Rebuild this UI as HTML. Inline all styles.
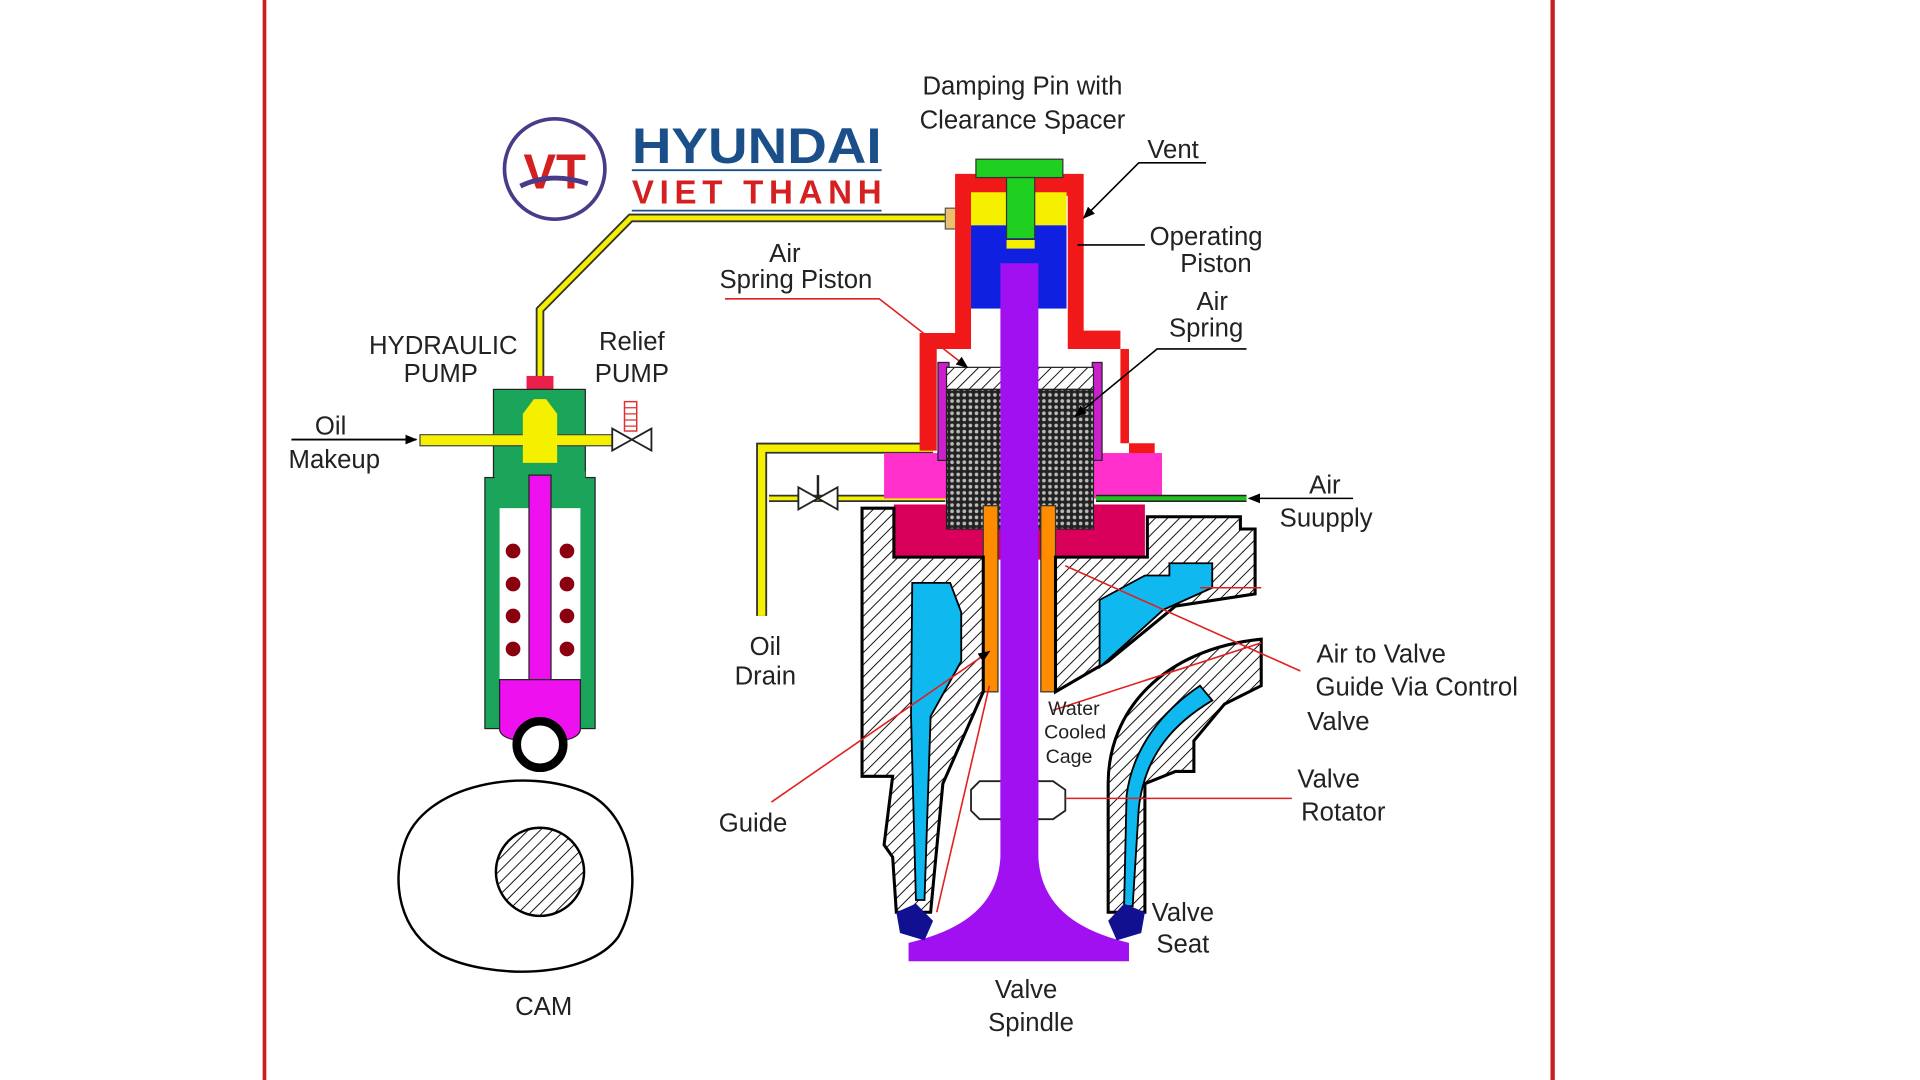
<!DOCTYPE html>
<html><head><meta charset="utf-8"><style>
html,body{margin:0;padding:0;background:#fff;width:1920px;height:1080px;overflow:hidden}
svg{display:block}
text{font-family:"Liberation Sans",sans-serif;fill:#222}
</style></head><body>
<svg width="1920" height="1080" viewBox="0 0 1568 882" xmlns="http://www.w3.org/2000/svg">
<defs>
<pattern id="h" width="7" height="7" patternUnits="userSpaceOnUse" patternTransform="rotate(45)">
<rect width="7" height="7" fill="#fff"/><line x1="0" y1="0" x2="0" y2="7" stroke="#111" stroke-width="1.6"/></pattern>
<pattern id="c" width="5" height="5" patternUnits="userSpaceOnUse">
<rect width="5" height="5" fill="#222"/><circle cx="2.5" cy="2.5" r="1.5" fill="#bbb"/></pattern>
<marker id="a" markerWidth="10" markerHeight="8" refX="9" refY="4" orient="auto" markerUnits="userSpaceOnUse"><path d="M0,0 L10,4 L0,8z" fill="#000"/></marker>
</defs>
<rect width="1568" height="882" fill="#fff"/>
<line x1="216" y1="0" x2="216" y2="882" stroke="#c81e1e" stroke-width="3"/>
<line x1="1268" y1="0" x2="1268" y2="882" stroke="#c81e1e" stroke-width="3.5"/>

<!-- logo -->
<circle cx="453" cy="138" r="41" fill="#fff" stroke="#4a3a8a" stroke-width="3"/>
<text x="453" y="154" text-anchor="middle" font-size="40" font-weight="bold" style="fill:#d42020">VT</text>
<path d="M425 152 Q450 140 480 150" stroke="#4a3a8a" stroke-width="4" fill="none"/>
<text x="516" y="133" font-size="41" font-weight="bold" style="fill:#1a4f8a" textLength="204" lengthAdjust="spacingAndGlyphs">HYUNDAI</text>
<line x1="516" y1="139" x2="720" y2="139" stroke="#1a4f8a" stroke-width="1.5"/>
<text x="516" y="166" font-size="27" font-weight="bold" style="fill:#d42020" textLength="204" lengthAdjust="spacing">VIET THANH</text>
<line x1="516" y1="172" x2="720" y2="172" stroke="#1a4f8a" stroke-width="1.5"/>

<!-- oil pipe to top -->
<path d="M441 312 L441 253 L515 178 L795 178" stroke="#333" stroke-width="7" fill="none"/>
<path d="M441 312 L441 253 L515 178 L795 178" stroke="#f5f000" stroke-width="4" fill="none"/>
<rect x="772" y="170" width="10" height="17" fill="#e8c070" stroke="#555" stroke-width="1"/>

<!-- pump -->
<rect x="430" y="307" width="22" height="12" fill="#e8204a"/>
<rect x="403" y="318" width="75" height="80" fill="#1aa55a" stroke="#222" stroke-width="1"/>
<rect x="396" y="390" width="90" height="205" fill="#1aa55a" stroke="#222" stroke-width="1"/>
<rect x="404" y="385" width="74" height="12" fill="#1aa55a"/>
<path d="M343 355 H500 V364 H343z" fill="#f5f000" stroke="#444" stroke-width="1"/>
<path d="M427 338 L436 326 L446 326 L455 338 V378 H427z" fill="#f5f000"/>
<rect x="408" y="415" width="66" height="145" fill="#fff"/>
<rect x="432" y="388" width="18" height="175" fill="#ee10ee" stroke="#222" stroke-width="1"/>
<path d="M408 555 H474 V595 Q474 606 441 606 Q408 606 408 595z" fill="#ee10ee" stroke="#222" stroke-width="1"/>
<circle cx="441" cy="608" r="19" fill="#fff" stroke="#000" stroke-width="7"/>
<g fill="#8a0010">
<circle cx="419" cy="450" r="6"/><circle cx="463" cy="450" r="6"/>
<circle cx="419" cy="477" r="6"/><circle cx="463" cy="477" r="6"/>
<circle cx="419" cy="503" r="6"/><circle cx="463" cy="503" r="6"/>
<circle cx="419" cy="530" r="6"/><circle cx="463" cy="530" r="6"/></g>
<line x1="238" y1="359" x2="340" y2="359" stroke="#000" stroke-width="1.5" marker-end="url(#a)"/>
<path d="M500 350 L532 368 L532 350 L500 368z" fill="#fff" stroke="#222" stroke-width="1.5"/>
<rect x="510" y="328" width="10" height="24" fill="#fff" stroke="#e03030" stroke-width="1.2"/>
<path d="M510 333 H520 M510 338 H520 M510 343 H520 M510 348 H520" stroke="#e03030"/>

<!-- cam -->
<path d="M330 690 C345 640 430 625 480 648 C520 668 525 730 505 765 C480 800 400 800 360 780 C325 760 320 720 330 690z" fill="#fff" stroke="#000" stroke-width="2"/>
<circle cx="441" cy="712" r="36" fill="url(#h)" stroke="#000" stroke-width="2"/>

<!-- oil drain pipes -->
<path d="M622 503 V366 H762" stroke="#333" stroke-width="9" fill="none"/>
<path d="M622 503 V366 H762" stroke="#f5f000" stroke-width="6" fill="none"/>
<path d="M628 407 H772" stroke="#333" stroke-width="6" fill="none"/>
<path d="M628 407 H772" stroke="#f5f000" stroke-width="3" fill="none"/>
<path d="M652 398 L684 416 L684 398 L652 416z" fill="#fff" stroke="#222" stroke-width="1.5"/>
<path d="M668 407 V388" stroke="#222" stroke-width="2"/>

<!-- red housing -->
<path d="M780 142 H885 V270 H915 V362 H943 V375 H922 V285 H872 V160 H793 V285 H765 V368 H751 V272 H780z" fill="#f01818"/>
<!-- green cap -->
<rect x="797" y="130" width="71" height="15" fill="#20d020" stroke="#333" stroke-width="1"/>
<rect x="793" y="157" width="78" height="27" fill="#f5f000"/>
<rect x="793" y="184" width="78" height="68" fill="#1020e0"/>
<rect x="822" y="145" width="23" height="50" fill="#20d020" stroke="#333" stroke-width="1"/>
<rect x="822" y="196" width="23" height="7" fill="#f5f000"/>

<!-- pink block -->
<rect x="722" y="370" width="227" height="37" fill="#ff30cc"/>
<rect x="730" y="412" width="205" height="45" fill="#d8005a"/>
<rect x="766" y="296" width="9" height="80" fill="#cc20cc" stroke="#222"/>
<rect x="892" y="296" width="8" height="80" fill="#cc20cc" stroke="#222"/>
<rect x="773" y="300" width="120" height="18" fill="url(#h)" stroke="#222"/>
<rect x="773" y="318" width="120" height="114" fill="url(#c)" stroke="#222"/>
<path d="M895 407 H1018" stroke="#222" stroke-width="6"/>
<path d="M895 407 H1018" stroke="#20c020" stroke-width="3.5"/>
<rect x="803" y="413" width="12" height="152" fill="#ff8c00" stroke="#333" stroke-width="1"/>
<rect x="850" y="413" width="12" height="152" fill="#ff8c00" stroke="#333" stroke-width="1"/>

<!-- left body -->
<path d="M704 415 H730 V455 H803 V565 L770 640 L760 745 H732 L729 700 L722 690 L729 634 H704z" fill="url(#h)" stroke="#000" stroke-width="2.5"/>
<path d="M745 476 H776 L785 500 V540 L760 585 L755 735 H748 L744 585z" fill="#10b8f0" stroke="#000" stroke-width="1.5"/>
<!-- right body -->
<path d="M862 455 H937 V422 H1013 V432 H1025 V485 L960 495 L905 540 L862 565z" fill="url(#h)" stroke="#000" stroke-width="2.5"/>
<path d="M898 490 L935 470 L955 470 L955 460 L990 460 V480 L950 498 L898 545z" fill="#10b8f0" stroke="#000" stroke-width="1.5"/>
<path d="M1030 522 V560 L1000 575 L975 605 V630 H960 L935 640 V745 H905 V640 C905 580 950 530 1030 522z" fill="url(#h)" stroke="#000" stroke-width="2.5"/>
<path d="M980 560 L990 572 C960 590 935 615 930 660 L925 740 H918 L920 650 C925 610 950 580 980 560z" fill="#10b8f0" stroke="#000" stroke-width="1.5"/>

<!-- spindle -->
<path d="M817 215 H848 V700 C850 740 880 760 922 770 V785 H742 V770 C785 760 815 740 817 700z" fill="#a010f0"/>
<path d="M800 638 H860 L870 645 V662 L860 669 H800 L793 662 V645z" fill="none" stroke="#222" stroke-width="1.5"/>
<rect x="817" y="636" width="31" height="35" fill="#a010f0"/>
<!-- seats -->
<path d="M732 745 L748 738 L762 752 L755 768 L735 762z" fill="#101090"/>
<path d="M935 745 L918 738 L905 752 L912 768 L932 762z" fill="#101090"/>

<!-- leader lines -->
<g fill="none" stroke-width="1.3">
<path d="M592 244 H718 L790 300" stroke="#e02020" marker-end="url(#a)"/>
<path d="M985 133 H930 L885 178" stroke="#000" marker-end="url(#a)"/>
<path d="M935 200 H880" stroke="#000"/>
<path d="M1018 285 H945 L878 340" stroke="#000" marker-end="url(#a)"/>
<path d="M1105 407 H1020" stroke="#000" marker-end="url(#a)"/>
<path d="M630 655 L808 532" stroke="#e02020" marker-end="url(#a)"/>
<path d="M1062 548 L870 462 M1030 480 H980 M1030 525 L860 580" stroke="#e02020"/>
<path d="M870 652 H1055" stroke="#e02020"/>
<path d="M765 745 L808 560" stroke="#e02020"/>
</g>

<!-- labels -->
<g font-size="21">
<text x="362" y="289" text-anchor="middle">HYDRAULIC</text>
<text x="360" y="312" text-anchor="middle">PUMP</text>
<text x="516" y="286" text-anchor="middle">Relief</text>
<text x="516" y="312" text-anchor="middle">PUMP</text>
<text x="270" y="355" text-anchor="middle">Oil</text>
<text x="273" y="382" text-anchor="middle">Makeup</text>
<text x="641" y="214" text-anchor="middle">Air</text>
<text x="650" y="235" text-anchor="middle">Spring  Piston</text>
<text x="835" y="77" text-anchor="middle">Damping  Pin  with</text>
<text x="835" y="105" text-anchor="middle">Clearance  Spacer</text>
<text x="958" y="129" text-anchor="middle">Vent</text>
<text x="985" y="200" text-anchor="middle">Operating</text>
<text x="993" y="222" text-anchor="middle">Piston</text>
<text x="990" y="253" text-anchor="middle">Air</text>
<text x="985" y="275" text-anchor="middle">Spring</text>
<text x="1082" y="403" text-anchor="middle">Air</text>
<text x="1083" y="430" text-anchor="middle">Suupply</text>
<text x="625" y="535" text-anchor="middle">Oil</text>
<text x="625" y="559" text-anchor="middle">Drain</text>
<text x="615" y="679" text-anchor="middle">Guide</text>
<text x="1128" y="541" text-anchor="middle">Air  to  Valve</text>
<text x="1157" y="568" text-anchor="middle">Guide  Via  Control</text>
<text x="1093" y="596" text-anchor="middle">Valve</text>
<text x="1085" y="643" text-anchor="middle">Valve</text>
<text x="1097" y="670" text-anchor="middle">Rotator</text>
<text x="966" y="752" text-anchor="middle">Valve</text>
<text x="966" y="778" text-anchor="middle">Seat</text>
<text x="838" y="815" text-anchor="middle">Valve</text>
<text x="842" y="842" text-anchor="middle">Spindle</text>
<text x="444" y="829" text-anchor="middle">CAM</text>
</g>
<g font-size="16">
<text x="877" y="584" text-anchor="middle">Water</text>
<text x="878" y="603" text-anchor="middle">Cooled</text>
<text x="873" y="623" text-anchor="middle">Cage</text>
</g>
</svg>
</body></html>
